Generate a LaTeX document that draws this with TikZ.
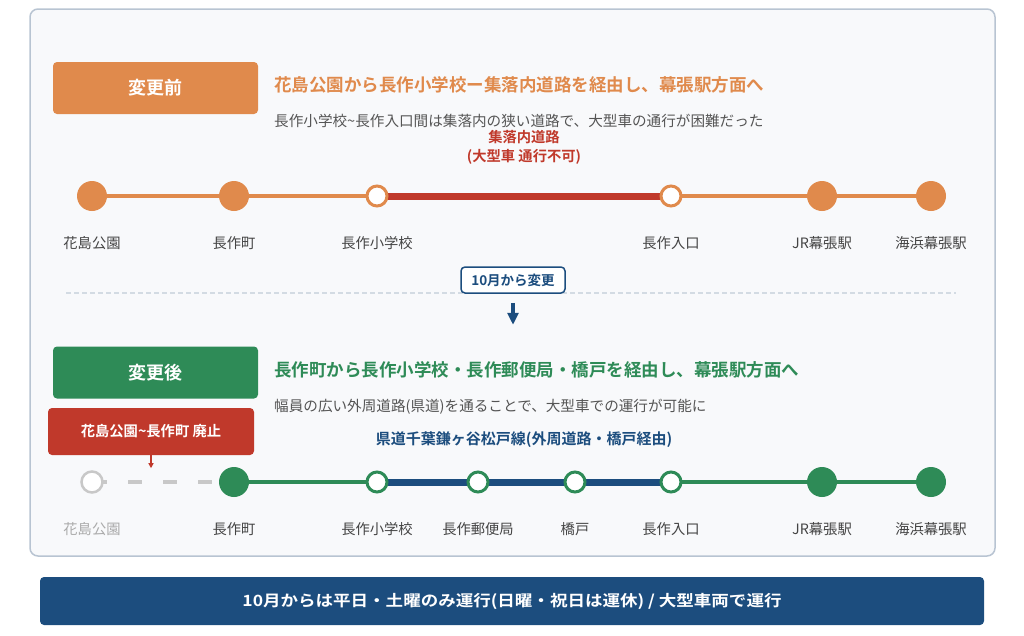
\documentclass[tikz,border=0pt]{standalone}
\usepackage{fontspec}
\usepackage{graphicx}
\setmainfont{Noto Sans CJK JP}[BoldFont={Noto Sans CJK JP Bold}]
\usetikzlibrary{arrows.meta}
\pgfdeclarelayer{bg}
\pgfdeclarelayer{lines}
\pgfsetlayers{bg,lines,main}
\definecolor{orng}{HTML}{E08A4C}
\definecolor{grn}{HTML}{2E8B57}
\definecolor{rd}{HTML}{C0392B}
\definecolor{blu}{HTML}{1C4D7E}
\definecolor{panelfill}{HTML}{F8F9FB}
\definecolor{panelline}{HTML}{B8C4D2}
\definecolor{txtgray}{HTML}{555555}
\definecolor{lblgray}{HTML}{444444}
\definecolor{lightgray}{HTML}{AAAAAA}
\definecolor{dashgray}{HTML}{C8C8C8}
\definecolor{divgray}{HTML}{D3DBE3}
\newcommand\tld{\char"7E\relax}
\begin{document}
\begin{tikzpicture}[x=1pt,y=-1pt,
  full/.style={circle,fill=#1,minimum size=30pt,inner sep=0pt},
  hollow/.style={circle,draw=#1,line width=3pt,fill=white,minimum size=20pt,inner sep=0pt},
  hdr/.style={rounded corners=4pt,minimum width=205pt,minimum height=52pt,inner sep=0pt,text=white,font=\bfseries\fontsize{18}{20}\selectfont},
  title/.style={anchor=west,inner sep=0pt,font=\bfseries\fontsize{17.5}{20}\selectfont},
  sub/.style={anchor=west,inner sep=0pt,text=txtgray,font=\fontsize{14.6}{17}\selectfont},
  lbl/.style={inner sep=0pt,text=lblgray,font=\fontsize{14.3}{17}\selectfont},
  thin/.style={line width=3.5pt,draw=#1},
  thick/.style={line width=7pt,draw=#1},
]
\useasboundingbox (0,0) rectangle (1024,635);
\begin{pgfonlayer}{bg}
\draw[panelline,fill=panelfill,line width=1.5pt,rounded corners=8pt] (30,9) rectangle (995,556);
\end{pgfonlayer}

% ---------- before ----------
\node[hdr,fill=orng] (pre) at (155.5,88) {変更前};
\node[title,text=orng] (pret) at (274,85) {花島公園から長作小学校ー集落内道路を経由し、幕張駅方面へ};
\node[sub] (pres) at (274,121) {長作小学校\tld 長作入口間は集落内の狭い道路で、大型車の通行が困難だった};
\node[align=center,text=rd,inner sep=0pt,font=\bfseries\fontsize{14.3}{19}\selectfont] (prer) at (524,147) {集落内道路\\(大型車 通行不可)};

\node[full=orng] (a1) at (92,196) {};
\node[full=orng] (a2) at (234,196) {};
\node[hollow=orng] (a3) at (377,196) {};
\node[hollow=orng] (a4) at (671,196) {};
\node[full=orng] (a5) at (822,196) {};
\node[full=orng] (a6) at (931,196) {};
\begin{pgfonlayer}{lines}
\draw[thin=orng] (a1.center) -- (a2.center) -- (a3.center);
\draw[thick=rd] (a3.center) -- (a4.center);
\draw[thin=orng] (a4.center) -- (a5.center) -- (a6.center);
\end{pgfonlayer}
\node[lbl] (la1) at (92,243) {花島公園};
\node[lbl] (la2) at (234,243) {長作町};
\node[lbl] (la3) at (377,243) {長作小学校};
\node[lbl] (la4) at (671,243) {長作入口};
\node[lbl] (la5) at (822,243) {JR幕張駅};
\node[lbl] (la6) at (931,243) {海浜幕張駅};

% ---------- divider ----------
\draw[divgray,line width=1.5pt,dash pattern=on 5pt off 3pt] (66,293) -- (956,293);
\node[draw=blu,line width=1.5pt,fill=white,rounded corners=4pt,minimum width=104pt,minimum height=26pt,inner sep=0pt,text=blu,font=\bfseries\fontsize{13.5}{15}\selectfont] (chg) at (513,280) {10月から変更};
\draw[blu,line width=3.5pt,-{Triangle[length=12pt,width=11pt]}] ([yshift=-9pt]chg.south) -- ++(0,22);

% ---------- after ----------
\node[hdr,fill=grn] (post) at (155.5,372.5) {変更後};
\node[title,text=grn] (postt) at (274,370) {長作町から長作小学校・長作郵便局・橋戸を経由し、幕張駅方面へ};
\node[sub] (posts) at (274,407) {幅員の広い外周道路(県道)を通ることで、大型車での運行が可能に};
\node[rounded corners=4pt,fill=rd,minimum width=206pt,minimum height=47pt,inner sep=0pt,text=white,font=\bfseries\fontsize{14.3}{17}\selectfont] (abol) at (151,431.5) {花島公園\tld 長作町 廃止};
\draw[rd,line width=1.2pt,-{Triangle[length=5pt,width=5pt]}] (abol.south) -- ++(0,13);
\node[inner sep=0pt,text=blu,font=\bfseries\fontsize{15}{17}\selectfont] (route) at (524,440) {県道千葉鎌ヶ谷松戸線(外周道路・橋戸経由)};

\node[circle,draw=dashgray,line width=2.5pt,fill=white,minimum size=21pt,inner sep=0pt] (b1) at (92,482) {};
\node[full=grn] (b2) at (234,482) {};
\node[hollow=grn] (b3) at (377,482) {};
\node[hollow=grn] (b4) at (478,482) {};
\node[hollow=grn] (b5) at (575,482) {};
\node[hollow=grn] (b6) at (671,482) {};
\node[full=grn] (b7) at (822,482) {};
\node[full=grn] (b8) at (931,482) {};
\begin{pgfonlayer}{lines}
\draw[dashgray,line width=3.5pt,dash pattern=on 14pt off 21pt,dash phase=-1pt] (b1.center) -- (b2.center);
\draw[thin=grn] (b2.center) -- (b3.center);
\draw[thick=blu] (b3.center) -- (b4.center) -- (b5.center) -- (b6.center);
\draw[thin=grn] (b6.center) -- (b7.center) -- (b8.center);
\end{pgfonlayer}
\node[lbl,text=lightgray] (lb1) at (92,529) {花島公園};
\node[lbl] (lb2) at (234,529) {長作町};
\node[lbl] (lb3) at (377,529) {長作小学校};
\node[lbl] (lb4) at (478,529) {長作郵便局};
\node[lbl] (lb5) at (575,529) {橋戸};
\node[lbl] (lb6) at (671,529) {長作入口};
\node[lbl] (lb7) at (822,529) {JR幕張駅};
\node[lbl] (lb8) at (931,529) {海浜幕張駅};

% ---------- bottom bar ----------
\node[rounded corners=4pt,fill=blu,minimum width=944pt,minimum height=48pt,inner sep=0pt,text=white,font=\bfseries\fontsize{15.5}{17}\selectfont] (bar) at (512,601) {\scalebox{1.13}[1]{10月からは平日・土曜のみ運行(日曜・祝日は運休) / 大型車両で運行}};
\end{tikzpicture}
\end{document}
